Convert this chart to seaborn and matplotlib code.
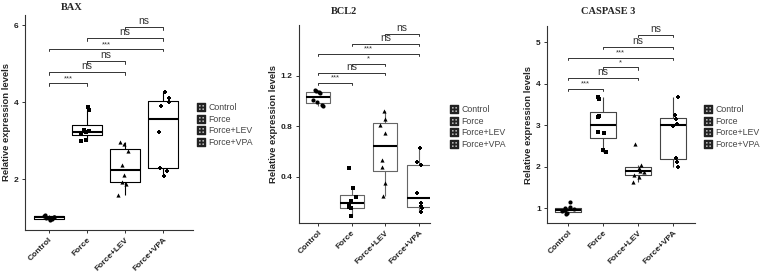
import matplotlib
matplotlib.use("Agg")
import matplotlib.pyplot as plt
import numpy as np
import pandas as pd
import seaborn as sns
from matplotlib.lines import Line2D

groups = ["Control", "Force", "Force+LEV", "Force+VPA"]
markers = ["o", "s", "^", "P"]

# BAX
bax_control = [0.94, 0.96, 0.98, 1.00, 1.01, 1.03, 1.05, 1.06]
bax_force = [2.99, 3.01, 3.19, 3.22, 3.25, 3.28, 3.79, 3.86]
bax_lev = [1.58, 1.88, 1.93, 2.10, 2.36, 2.74, 2.91, 2.97]
bax_vpa = [2.09, 2.22, 2.30, 3.23, 3.90, 4.00, 4.10, 4.27]

# BCL2
bcl2_control = [0.96, 0.97, 0.99, 1.01, 1.06, 1.07, 1.08, 1.09]
bcl2_force = [0.09, 0.15, 0.16, 0.18, 0.21, 0.24, 0.31, 0.47]
bcl2_lev = [0.25, 0.35, 0.48, 0.53, 0.75, 0.81, 0.86, 0.92]
bcl2_vpa = [0.12, 0.15, 0.17, 0.19, 0.27, 0.49, 0.52, 0.63]

# CASPASE 3
casp_control = [0.85, 0.88, 0.92, 0.95, 0.97, 0.99, 1.02, 1.15]
casp_force = [2.35, 2.39, 2.80, 2.84, 3.19, 3.21, 3.63, 3.69]
casp_lev = [1.63, 1.75, 1.80, 1.88, 1.90, 1.97, 2.04, 2.55]
casp_vpa = [2.00, 2.12, 2.20, 2.98, 3.02, 3.15, 3.25, 3.69]

# comparisons (group index pairs)
pairs = [(0, 1), (0, 2), (1, 2), (0, 3), (1, 3), (2, 3)]
bax_sig = ["***", "ns", "ns", "***", "ns", "ns"]
bax_bracket_y = [4.49, 4.78, 5.06, 5.38, 5.66, 5.95]
bcl2_sig = ["***", "ns", "*", "***", "ns", "ns"]
bcl2_bracket_y = [1.145, 1.224, 1.295, 1.374, 1.453, 1.533]
casp_sig = ["***", "ns", "*", "***", "ns", "ns"]
casp_bracket_y = [3.88, 4.14, 4.39, 4.63, 4.89, 5.17]

panels = [
    dict(title="BAX", vals=[bax_control, bax_force, bax_lev, bax_vpa],
         sig=bax_sig, by=bax_bracket_y, ylim=(0.68, 6.26), xlim=(-0.63, 3.79),
         yticks=[2, 4, 6], ylabels=["2", "4", "6"],
         rect=[0.0329, 0.1544, 0.2207, 0.7905], box_color="black", width=0.77,
         title_xy=(72, 8), legend_xy=(197, 103)),
    dict(title="BCL2", vals=[bcl2_control, bcl2_force, bcl2_lev, bcl2_vpa],
         sig=bcl2_sig, by=bcl2_bracket_y, ylim=(0.035, 1.60), xlim=(-0.57, 3.33),
         yticks=[0.4, 0.8, 1.2], ylabels=["0.4", "0.8", "1.2"],
         rect=[0.3929, 0.1801, 0.1721, 0.7279], box_color="#666666", width=0.72,
         title_xy=(344, 12), legend_xy=(450, 105)),
    dict(title="CASPASE 3", vals=[casp_control, casp_force, casp_lev, casp_vpa],
         sig=casp_sig, by=casp_bracket_y, ylim=(0.64, 5.39), xlim=(-0.6, 3.63),
         yticks=[1, 2, 3, 4, 5], ylabels=["1", "2", "3", "4", "5"],
         rect=[0.7188, 0.1801, 0.1945, 0.7243], box_color="#444444", width=0.76,
         title_xy=(608, 12), legend_xy=(704, 105)),
]

sns.set_style("white")
plt.rcParams["font.family"] = ["Liberation Sans", "DejaVu Sans"]

W, H = 761, 272
fig = plt.figure(figsize=(W / 100, H / 100), dpi=100)
np.random.seed(3)

for p in panels:
    ax = fig.add_axes(p["rect"])
    rows = []
    for g, v in zip(groups, p["vals"]):
        for val in v:
            rows.append({"group": g, "value": val})
    df = pd.DataFrame(rows)

    sns.boxplot(data=df, x="group", y="value", order=groups, ax=ax,
                fill=False, color=p["box_color"], linewidth=0.8,
                width=p["width"], showfliers=False, showcaps=False,
                medianprops=dict(color="black", linewidth=1.5))
    for g, m in zip(groups, markers):
        sub = df[df["group"] == g]
        sns.stripplot(data=sub, x="group", y="value", order=groups, ax=ax,
                      color="black", marker=m, size=3 if m != "s" else 3.2,
                      jitter=0.18, linewidth=0)

    # significance brackets
    rng = p["ylim"][1] - p["ylim"][0]
    tip = rng * 0.012
    for (a, b), lab, yb in zip(pairs, p["sig"], p["by"]):
        ax.plot([a, a, b, b], [yb - tip, yb, yb, yb - tip],
                color="#333333", linewidth=0.7, clip_on=False)
        fs = 7.5 if lab == "ns" else 5.5
        ax.text((a + b) / 2, yb + rng * 0.004, lab, ha="center", va="bottom",
                fontsize=fs, color="#333333")

    ax.set_xlim(*p["xlim"])
    ax.set_ylim(*p["ylim"])
    ax.set_yticks(p["yticks"])
    ax.set_yticklabels(p["ylabels"], fontsize=6, fontweight="bold", color="#222222")
    ax.set_xticks(range(len(groups)))
    ax.set_xticklabels(groups, fontsize=6, fontweight="bold", color="#222222",
                       rotation=45, ha="right", rotation_mode="anchor")
    ax.set_xlabel("")
    ax.set_ylabel("Relative expression levels", fontsize=6.8, fontweight="bold",
                  labelpad=2)
    sns.despine(ax=ax)
    for s in ["left", "bottom"]:
        ax.spines[s].set_color("#333333")
        ax.spines[s].set_linewidth(0.8)
    ax.tick_params(axis="both", length=2.5, width=0.7, color="#333333", pad=2,
                   left=True, bottom=True)

    fig.text(p["title_xy"][0] / W, 1 - p["title_xy"][1] / H, p["title"],
             ha="center", va="center", fontsize=7.5, fontweight="bold",
             family="Liberation Serif")

    handles = [Line2D([], [], marker=r"$\boxplus$", color="#222222",
                      linestyle="none", markersize=5.5) for _ in groups]
    fig.legend(handles, groups, loc="upper left",
               bbox_to_anchor=(p["legend_xy"][0] / W, 1 - p["legend_xy"][1] / H),
               frameon=False, fontsize=6.3, labelspacing=0.3, handletextpad=0.3,
               handlelength=1.0, borderpad=0, borderaxespad=0, labelcolor="#444444")

fig.savefig("out.png", dpi=100)
